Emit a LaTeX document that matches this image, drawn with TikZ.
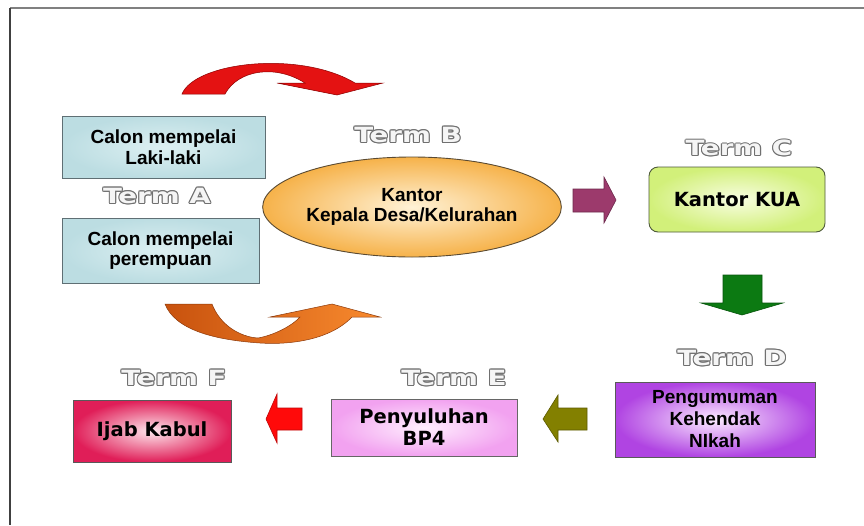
\documentclass[tikz,border=0pt]{standalone}
\usepackage{fontspec}
\usepackage{graphicx}
\usetikzlibrary{shapes.geometric}
\newfontfamily\ars{Liberation Sans}
\newfontfamily\dvs{DejaVu Sans}
\definecolor{termgray}{HTML}{707070}
\definecolor{aedge}{HTML}{5F6F74}
\definecolor{ain}{HTML}{DDF0F2}
\definecolor{aout}{HTML}{BCDDE2}
\definecolor{ellin}{HTML}{FFF2D6}
\definecolor{ellout}{HTML}{F6B24A}
\definecolor{elledge}{HTML}{5A4A32}
\definecolor{cin}{HTML}{F8FDE2}
\definecolor{cout}{HTML}{D2F07A}
\definecolor{cedge}{HTML}{4E5A3A}
\definecolor{din}{HTML}{FBEAFF}
\definecolor{dout}{HTML}{B044E2}
\definecolor{ein}{HTML}{FFEFFE}
\definecolor{eout}{HTML}{F2A2F0}
\definecolor{fin}{HTML}{FDE6EC}
\definecolor{fout}{HTML}{E01E58}
\definecolor{magf}{HTML}{9C3A6C}
\definecolor{grnf}{HTML}{0C7A12}
\definecolor{olvf}{HTML}{838000}
\definecolor{redf}{HTML}{FF0A0A}
\definecolor{topred}{HTML}{E41212}
\definecolor{orgl}{HTML}{C8520E}
\definecolor{orgr}{HTML}{F88A2E}
\newcommand\olpiece[3]{\rlap{\hspace*{#1}\raisebox{#2}{\color{termgray}#3}}}
\newcommand\outlined[1]{\olpiece{-.85pt}{0pt}{#1}\olpiece{.85pt}{0pt}{#1}\olpiece{0pt}{.85pt}{#1}\olpiece{0pt}{-.85pt}{#1}\olpiece{-.6pt}{-.6pt}{#1}\olpiece{.6pt}{.6pt}{#1}\olpiece{-.6pt}{.6pt}{#1}\olpiece{.6pt}{-.6pt}{#1}{\color{white!96!black}#1}}
\newcommand\termtxt[1]{\scalebox{1.32}[1]{\outlined{#1}}}
\tikzset{
  termlbl/.style={inner sep=0pt, font=\dvs\bfseries\fontsize{21}{21}\selectfont},
  boxbase/.style={rectangle, inner sep=0pt, align=center, line width=0.9pt},
  arfont/.style={font=\ars\bfseries\fontsize{19}{20.5}\selectfont},
  dvfont/.style={font=\dvs\bfseries\fontsize{19.5}{22}\selectfont},
  boxA/.style={boxbase, arfont, draw=aedge, inner color=ain, outer color=aout},
  blockarrow/.style={line width=0.6pt}
}
\begin{document}
\begin{tikzpicture}[x=1pt,y=-1pt]
\useasboundingbox (0,0) rectangle (864,525);
\fill[white] (0,0) rectangle (864,525);
% frame
\draw[line width=1.5pt, color=gray] (10,8) -- (864,8);
\draw[line width=1.8pt, color=black!75] (10,8) -- (10,525);

% Term A boxes
\node[boxA, minimum width=203pt, minimum height=62pt] (a1) at (163.5,147) {Calon mempelai\\Laki-laki};
\node[boxA, minimum width=197pt, minimum height=65pt] (a2) at (160.5,250.5) {Calon mempelai\\perempuan};
\node[termlbl] (ta) at (157,196) {\termtxt{Term A}};

% Term B ellipse
\node[ellipse, inner sep=0pt, align=center, arfont, draw=elledge, line width=0.9pt,
      inner color=ellin, outer color=ellout, minimum width=262pt, minimum height=100pt] (b) at (412,207)
      {Kantor\\Kepala Desa/Kelurahan};
\node[termlbl] (tb) at (408,135) {\termtxt{Term B}};

% Term C
\node[boxbase, dvfont, rounded corners=9pt, draw=cedge, inner color=cin, outer color=cout,
      minimum width=176pt, minimum height=65pt] (c) at (737,199.5) {Kantor KUA};
\node[termlbl] (tc) at (739,148) {\termtxt{Term C}};

% Term D
\node[boxbase, font=\ars\bfseries\fontsize{19}{22}\selectfont, draw=black!65, inner color=din, outer color=dout,
      minimum width=200pt, minimum height=75pt] (d) at (715,419.5) {Pengumuman\\Kehendak\\NIkah};
\node[termlbl] (td) at (732,358) {\termtxt{Term D}};

% Term E
\node[boxbase, dvfont, draw=black!60, inner color=ein, outer color=eout,
      minimum width=186pt, minimum height=57pt] (e) at (424,427.5) {Penyuluhan\\BP4};
\node[termlbl] (te) at (454,378) {\termtxt{Term E}};

% Term F
\node[boxbase, dvfont, draw=black!65, inner color=fin, outer color=fout,
      minimum width=158pt, minimum height=62pt] (f) at (152,431) {Ijab Kabul};
\node[termlbl] (tf) at (174,378) {\termtxt{Term F}};

% curved top arrow (red)
\path[fill=topred, draw=red!55!black, line width=0.5pt]
  (182,94) .. controls (195,62) and (300,50) .. (355,83) -- (383,83) -- (337,95) -- (277,83) -- (305,83)
  .. controls (275,64) and (238,70) .. (225,94) -- cycle;

% curved bottom arrow (orange)
\path[left color=orgl, right color=orgr, draw=orgl!70!black, line width=0.5pt]
  (165,304) -- (212,304) .. controls (220,325) and (240,337) .. (258,338)
  .. controls (275,335) and (293,325) .. (300,317) -- (270,317) -- (332,304) -- (380,317) -- (352,317)
  .. controls (330,340) and (290,345) .. (260,343)
  .. controls (215,340) and (175,330) .. (165,304) -- cycle;

% straight block arrows
\path[blockarrow, fill=magf, draw=magf!70!black]
  (573,189) -- (604,189) -- (604,177) -- (616,200) -- (604,223) -- (604,212) -- (573,212) -- cycle;
\path[blockarrow, fill=grnf, draw=grnf!70!black]
  (723,275) -- (762,275) -- (762,303) -- (783,303) -- (742,315) -- (701,303) -- (723,303) -- cycle;
\path[blockarrow, fill=olvf, draw=olvf!70!black]
  (587,408) -- (558,408) -- (558,395) -- (543,419) -- (558,442) -- (558,430) -- (587,430) -- cycle;
\path[blockarrow, fill=redf, draw=redf!75!black]
  (302,408) -- (277,408) -- (277,394) -- (266,419) -- (277,443) -- (277,430) -- (302,430) -- cycle;
\end{tikzpicture}
\end{document}
